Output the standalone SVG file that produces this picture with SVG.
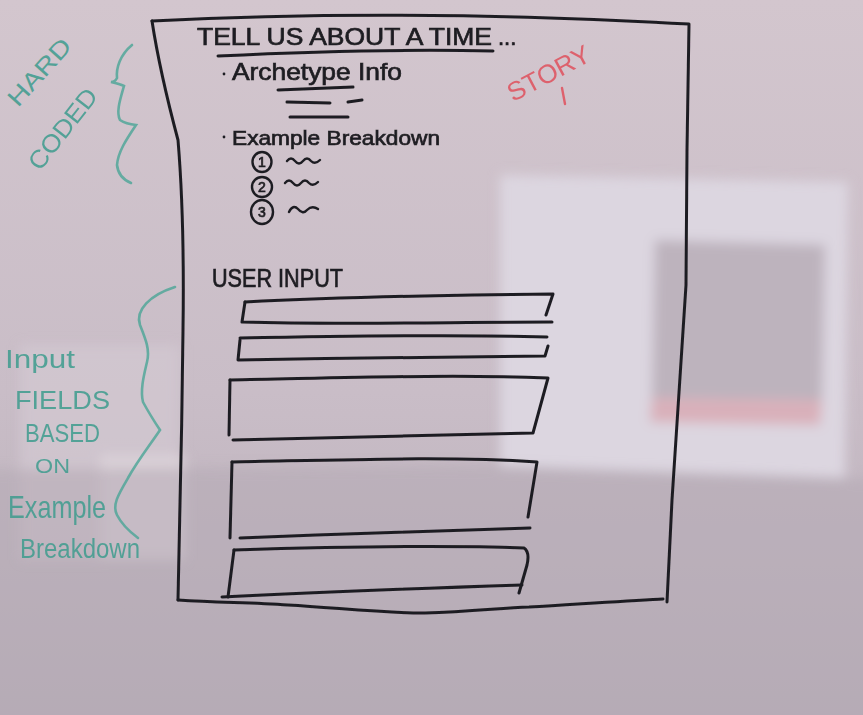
<svg xmlns="http://www.w3.org/2000/svg" width="863" height="715" viewBox="0 0 863 715">
  <defs>
    <linearGradient id="board" x1="0" y1="0" x2="0" y2="1">
      <stop offset="0" stop-color="#d3c6ce"/>
      <stop offset="0.55" stop-color="#c9bdc7"/>
      <stop offset="1" stop-color="#b8aeb8"/>
    </linearGradient>
    <filter id="soft" x="-20%" y="-20%" width="140%" height="140%">
      <feGaussianBlur stdDeviation="6"/>
    </filter>
    <filter id="inkblur" x="-5%" y="-5%" width="110%" height="110%">
      <feGaussianBlur stdDeviation="0.6"/>
    </filter>
  </defs>
  <style>
    .ink { fill: none; stroke: #1f1d22; stroke-width: 3; stroke-linecap: round; stroke-linejoin: round; }
    .thin { stroke-width: 2.4; }
    .hand { font-family: "Liberation Sans", "DejaVu Sans", sans-serif; fill: #1f1d22; stroke: #1f1d22; stroke-width: 0.7; }
    .green { font-family: "Liberation Sans", "DejaVu Sans", sans-serif; fill: #3e9c8e; opacity: 0.85; }
    .gstroke { fill: none; stroke: #4aa596; stroke-width: 2.6; stroke-linecap: round; opacity: 0.8; }
    .red { font-family: "Liberation Sans", "DejaVu Sans", sans-serif; fill: #e0505c; opacity: 0.85; }
  </style>

  <!-- whiteboard surface with window reflections -->
  <g id="board-surface">
    <rect x="0" y="0" width="863" height="715" fill="url(#board)"/>
    <g filter="url(#soft)">
      <rect x="20" y="345" width="160" height="215" fill="#d3c9d1" opacity="0.7"/>
      <rect x="100" y="455" width="85" height="105" fill="#dcd4db" opacity="0.8"/>
      <path d="M500 175 L848 182 L845 478 L500 468 Z" fill="#dcd6e0"/>
      <path d="M655 240 L825 245 L822 400 L652 398 Z" fill="#bdb3bd"/>
      <path d="M652 398 L822 400 L820 425 L650 422 Z" fill="#d9b0ba"/>
      <path d="M-40 470 L500 465 L900 480 L900 760 L-40 760 Z" fill="#b5aab4" opacity="0.55"/>
    </g>
  </g>

  <g filter="url(#inkblur)">
    <!-- page outline -->
    <g id="page">
      <path class="ink" d="M152 21 Q400 8 689 24 L687 150 L686 285 L672 500 L667 602"/>
      <path class="ink" d="M152 21 C158 60 170 110 178 140 C183 200 184 260 183 330 C182 420 180 520 178 600"/>
      <path class="ink" d="M178 600 C220 603 250 602 288 605 C340 608 380 613 425 613 C470 612 500 608 529 607 C580 604 620 601 663 599"/>
    </g>

    <!-- heading -->
    <g id="title">
      <text class="hand" x="197" y="45" font-size="24" textLength="295" lengthAdjust="spacingAndGlyphs">TELL US ABOUT A TIME</text>
      <text class="hand" x="498" y="45" font-size="22">...</text>
      <path class="ink" d="M218 56 C300 52 400 49 493 51"/>
    </g>

    <!-- archetype block -->
    <g id="archetype">
      <circle cx="224" cy="74" r="1.4" fill="#1f1d22"/>
      <text class="hand" x="232" y="80" font-size="24" textLength="170" lengthAdjust="spacingAndGlyphs">Archetype Info</text>
      <path class="ink" d="M278 90 L353 87"/>
      <path class="ink" d="M287 102 L330 103"/>
      <path class="ink" d="M348 102 L362 100"/>
      <path class="ink" d="M290 117 L348 117"/>
    </g>

    <!-- example breakdown list -->
    <g id="example">
      <circle cx="224" cy="137" r="1.4" fill="#1f1d22"/>
      <text class="hand" x="232" y="145" font-size="21" textLength="208" lengthAdjust="spacingAndGlyphs">Example Breakdown</text>
      <ellipse class="ink thin" cx="262" cy="162" rx="9.5" ry="10"/>
      <text class="hand" x="262" y="167" font-size="14" text-anchor="middle">1</text>
      <path class="ink thin" d="M287 161 q4 -5 8 0 q4 5 8 0 q4 -5 8 0 q4 4 9 -1"/>
      <ellipse class="ink thin" cx="262" cy="187" rx="10" ry="10"/>
      <text class="hand" x="262" y="192" font-size="14" text-anchor="middle">2</text>
      <path class="ink thin" d="M285 183 q4 -5 8 0 q4 5 8 0 q4 -5 8 0 q4 4 9 -1"/>
      <ellipse class="ink thin" cx="262" cy="212" rx="11" ry="12"/>
      <text class="hand" x="262" y="217" font-size="14" text-anchor="middle">3</text>
      <path class="ink thin" d="M289 212 q4 -8 9 -3 q5 6 9 1 q5 -5 11 -1"/>
    </g>

    <!-- user input heading -->
    <g id="user-input">
      <text class="hand" x="212" y="287" font-size="25" textLength="131" lengthAdjust="spacingAndGlyphs">USER INPUT</text>
    </g>

    <!-- input fields -->
    <g id="field-1">
      <path class="ink" d="M245 302 C340 297 450 295 553 294 L546 315"/>
      <path class="ink" d="M245 302 L242 322 C350 325 450 322 552 322"/>
    </g>
    <g id="field-2">
      <path class="ink" d="M240 338 C340 336 450 334 547 337"/>
      <path class="ink" d="M548 346 L545 356 C440 357 340 358 238 360 L240 340"/>
    </g>
    <g id="field-3">
      <path class="ink" d="M230 380 C340 378 450 374 548 378 L533 433 C440 436 340 438 233 440"/>
      <path class="ink" d="M230 380 L229 435"/>
    </g>
    <g id="field-4">
      <path class="ink" d="M232 462 C340 460 450 456 537 462 L528 517"/>
      <path class="ink" d="M232 462 L230 538"/>
      <path class="ink" d="M240 538 C340 534 450 530 530 528"/>
    </g>
    <g id="field-5">
      <path class="ink" d="M234 550 C330 547 440 545 524 548 Q530 552 527 565 L519 593"/>
      <path class="ink" d="M234 550 L228 597"/>
      <path class="ink" d="M222 597 C320 592 430 588 522 585"/>
    </g>
  </g>

  <!-- red margin note -->
  <g id="story-note">
    <text class="red" x="549" y="82" font-size="26" text-anchor="middle" transform="rotate(-28 549 74)" textLength="90" lengthAdjust="spacingAndGlyphs">STORY</text>
    <path d="M562 88 L565 104" fill="none" stroke="#e0505c" stroke-width="2.4" stroke-linecap="round" opacity="0.85"/>
  </g>

  <!-- green margin notes -->
  <g id="hard-coded-note">
    <text class="green" x="18" y="108" font-size="24" transform="rotate(-48 18 108)" textLength="82" lengthAdjust="spacingAndGlyphs">HARD</text>
    <text class="green" x="40" y="172" font-size="25" transform="rotate(-52 40 172)" textLength="96" lengthAdjust="spacingAndGlyphs">CODED</text>
    <path class="gstroke" d="M132 45 C120 55 116 68 117 78 Q115 82 111 82 Q120 84 124 86 C120 100 116 112 120 120 Q126 124 136 125 C126 140 118 152 117 165 C118 175 124 180 131 183"/>
  </g>

  <g id="input-fields-note">
    <text class="green" x="5" y="368" font-size="26" textLength="70" lengthAdjust="spacingAndGlyphs">Input</text>
    <text class="green" x="15" y="409" font-size="25" textLength="95" lengthAdjust="spacingAndGlyphs">FIELDS</text>
    <text class="green" x="25" y="442" font-size="25" textLength="75" lengthAdjust="spacingAndGlyphs">BASED</text>
    <text class="green" x="35" y="473" font-size="20" textLength="35" lengthAdjust="spacingAndGlyphs">ON</text>
    <text class="green" x="8" y="518" font-size="32" textLength="98" lengthAdjust="spacingAndGlyphs">Example</text>
    <text class="green" x="20" y="558" font-size="27" textLength="120" lengthAdjust="spacingAndGlyphs">Breakdown</text>
    <path class="gstroke" d="M175 287 C150 295 135 310 140 325 C146 340 150 350 147 362 C144 375 140 390 143 402 Q150 415 160 430 C150 445 138 460 128 478 C118 495 112 505 117 515 C122 525 130 532 138 538"/>
  </g>
</svg>
